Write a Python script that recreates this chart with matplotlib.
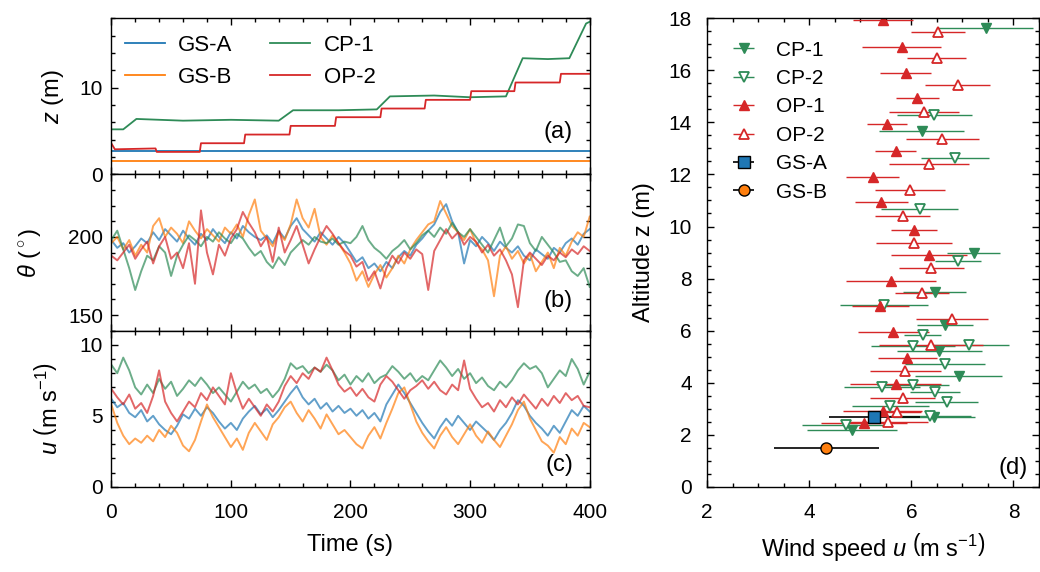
import numpy as np
import matplotlib
matplotlib.use("Agg")
import matplotlib.pyplot as plt
from matplotlib.ticker import MultipleLocator

plt.rcParams["font.family"] = ["Liberation Sans", "DejaVu Sans"]
plt.rcParams["mathtext.fontset"] = "custom"
plt.rcParams["mathtext.rm"] = "Liberation Sans"
plt.rcParams["mathtext.it"] = "Liberation Sans:italic"
plt.rcParams["font.size"] = 15
plt.rcParams["axes.labelsize"] = 17

C_A = "#1f77b4"
C_B = "#ff7f0e"
C_CP = "#2e8b57"
C_OP = "#d62728"

# ---- panel (a): altitude of the sensors, (time, z) breakpoints
cp1_t = [0, 10, 21, 60, 100, 140, 152, 190, 222, 233, 270, 300, 330, 344, 365, 383, 397, 400]
cp1_z = [5.2, 5.2, 6.4, 6.2, 6.3, 6.2, 7.4, 7.4, 7.5, 9.0, 9.1, 8.9, 9.0, 13.4, 13.3, 13.4, 17.4, 17.6]
op2_t = [0, 3, 37, 38, 74, 75, 111, 112, 149, 150, 187, 188, 225, 226, 262, 263, 300, 301, 337, 338, 375, 376, 400]
op2_z = [3.6, 2.9, 3.0, 2.6, 2.6, 3.6, 3.6, 4.6, 4.6, 5.6, 5.6, 6.6, 6.6, 7.6, 7.6, 8.6, 8.6, 9.6, 9.6, 10.6, 10.6, 11.6, 11.6]
gsa_z = 2.7
gsb_z = 1.5

# ---- panel (b): wind direction (deg), sampled every 5 s
dir_gsa = [198, 193, 196, 190, 194, 199, 196, 203, 198, 205, 201, 197, 204, 199, 195, 202, 198, 205, 200, 196,
           203, 199, 207, 203, 200, 198, 201, 196, 204, 199, 207, 212, 205, 201, 197, 203, 199, 195, 200, 196,
           190, 184, 187, 180, 183, 178, 184, 180, 187, 191, 188, 195, 199, 204, 208, 216, 221, 210, 203, 183,
           198, 194, 200, 196, 191, 197, 193, 190, 194, 188, 185, 192, 189, 186, 193, 190, 196, 199, 195, 202, 205]
dir_gsb = [196, 200, 192, 198, 188, 195, 190, 207, 212, 200, 206, 202, 196, 210, 204, 199, 205, 201, 197, 206,
           202, 208, 200, 214, 224, 204, 199, 194, 203, 198, 208, 224, 212, 206, 218, 200, 195, 201, 196, 190,
           183, 172, 178, 168, 176, 182, 174, 180, 188, 183, 192, 198, 203, 208, 210, 223, 215, 207, 203, 198,
           205, 196, 192, 185, 162, 188, 194, 186, 191, 183, 189, 178, 184, 190, 180, 193, 188, 197, 203, 200, 213]
dir_cp1 = [198, 204, 192, 180, 166, 178, 188, 185, 194, 190, 175, 188, 195, 201, 198, 194, 200, 197, 203, 199,
           196, 202, 199, 193, 188, 191, 184, 180, 187, 182, 190, 194, 198, 195, 200, 197, 196, 199, 195, 197,
           196, 200, 207, 198, 193, 190, 186, 191, 194, 198, 192, 196, 201, 204, 200, 206, 202, 209, 203, 200,
           205, 200, 195, 190, 198, 206, 194, 199, 208, 207, 196, 191, 200, 195, 190, 184, 185, 178, 175, 180, 168]
dir_op2 = [188, 185, 190, 195, 186, 192, 197, 183, 194, 200, 186, 190, 180, 196, 170, 217, 190, 176, 195, 188,
           199, 205, 216, 209, 203, 194, 200, 184, 206, 190, 198, 207, 195, 183, 192, 200, 207, 202, 196, 191,
           188, 181, 184, 172, 178, 167, 180, 188, 183, 190, 186, 192, 189, 166, 191, 198, 205, 199, 203, 195,
           200, 197, 190, 195, 188, 192, 185, 176, 155, 185, 190, 186, 182, 188, 185, 190, 187, 192, 189, 194, 191]

# ---- panel (c): wind speed (m/s), sampled every 5 s
spd_gsa = [6.2, 5.6, 5.9, 5.2, 4.9, 5.4, 4.6, 5.0, 4.4, 4.0, 3.7, 4.3, 5.1, 4.8, 5.5, 5.0, 5.6, 5.2, 4.6, 4.1,
           4.5, 4.0, 4.8, 5.3, 5.7, 5.1, 5.5, 4.9, 5.4, 6.0, 6.6, 7.1, 6.3, 5.8, 6.2, 5.5, 5.9, 5.3, 5.7, 5.2,
           5.5, 5.0, 5.4, 4.8, 5.2, 4.6, 5.8, 6.5, 7.2, 6.6, 5.9, 5.2, 4.5, 3.9, 3.4, 4.2, 4.8, 4.3, 5.0, 4.5,
           4.0, 4.6, 4.2, 3.8, 3.3, 4.0, 4.5, 5.2, 6.1, 5.7, 5.0, 4.5, 4.1, 3.6, 4.3, 3.8, 4.6, 5.4, 5.0, 5.7, 5.3]
spd_gsb = [5.8, 4.5, 3.6, 3.0, 3.4, 3.1, 3.6, 3.2, 4.0, 3.5, 4.3, 3.8, 2.9, 2.5, 3.3, 4.6, 5.8, 4.9, 4.2, 3.5,
           2.8, 3.4, 2.6, 3.8, 4.5, 3.9, 3.3, 4.4, 4.9, 5.6, 6.0, 5.2, 4.6, 5.4, 4.8, 4.1, 5.1, 4.4, 3.7, 4.0,
           3.5, 3.0, 2.7, 3.6, 4.2, 3.4, 4.5, 5.5, 6.6, 7.0, 5.8, 4.6, 3.8, 3.2, 2.7, 3.6, 4.2, 3.5, 3.0, 3.7,
           4.4, 3.6, 3.1, 3.9, 3.3, 2.8, 3.6, 4.4, 5.4, 6.0, 4.8, 4.0, 3.2, 2.9, 2.4, 3.5, 3.0, 4.1, 3.6, 4.5, 4.2]
spd_cp1 = [8.6, 8.0, 9.1, 8.2, 7.0, 6.5, 7.2, 6.6, 7.6, 6.9, 7.4, 6.4, 6.9, 7.5, 7.1, 7.7, 7.2, 6.6, 7.0, 6.5,
           6.0, 6.7, 7.4, 6.9, 7.2, 6.6, 6.9, 6.3, 6.8, 7.6, 8.7, 8.3, 8.5, 8.0, 8.4, 8.1, 8.6, 8.2, 7.5, 7.9,
           7.2, 7.8, 7.4, 8.0, 7.3, 7.7, 7.9, 8.5, 8.1, 7.6, 8.0, 7.4, 7.8, 7.5, 8.2, 8.9, 8.4, 7.8, 8.3, 7.6,
           8.0, 7.3, 7.7, 7.1, 6.8, 7.4, 7.0, 7.5, 8.2, 8.7, 8.3, 8.5, 8.0, 7.0, 7.6, 8.2, 7.8, 9.0, 8.3, 7.2, 8.1]
spd_op2 = [6.9, 6.3, 5.8, 6.5, 5.5, 5.9, 5.2, 6.4, 8.2, 6.0, 5.2, 4.6, 5.3, 6.0, 5.6, 6.6, 6.1, 7.0, 6.4, 5.8,
           8.0, 6.6, 5.5, 6.2, 5.6, 5.0, 5.8, 5.3, 6.0, 7.1, 7.8, 7.3, 8.0, 7.6, 8.4, 8.1, 9.1, 8.2, 7.2, 6.7,
           7.0, 6.4, 6.9, 6.3, 6.0, 7.2, 7.8, 7.4, 6.8, 6.2, 6.8, 7.1, 7.5, 6.9, 7.4, 6.8, 6.5, 7.2, 6.8, 8.9,
           6.9, 6.2, 5.6, 5.9, 5.3, 6.1, 5.6, 6.3, 5.8, 6.5, 6.0, 5.5, 6.2, 5.7, 6.4, 5.9, 6.6, 6.1, 6.4, 5.7, 5.6]

# ---- panel (d): mean wind speed profiles, (u, z, std of u)
cp1_u = [7.46, 6.20, 7.22, 6.46, 6.66, 6.55, 6.93, 6.45, 4.84]
cp1_h = [17.61, 13.68, 8.97, 7.49, 6.23, 5.23, 4.27, 2.70, 2.18]
cp1_s = [0.93, 0.83, 0.52, 0.62, 0.55, 0.84, 0.85, 0.80, 0.88]

cp2_u = [6.45, 6.86, 6.16, 6.92, 5.46, 6.22, 6.03, 7.13, 6.66, 6.03, 5.42, 6.46, 6.69, 5.59, 6.37, 4.71]
cp2_h = [14.27, 12.62, 10.67, 8.69, 7.00, 5.85, 5.40, 5.46, 4.73, 3.92, 3.82, 3.64, 3.24, 3.12, 2.72, 2.38]
cp2_s = [0.73, 0.67, 0.76, 0.45, 0.86, 0.37, 0.82, 0.78, 0.78, 0.70, 0.74, 0.49, 0.62, 0.76, 0.80, 0.86]

op1_u = [5.45, 5.81, 5.89, 6.12, 5.52, 5.69, 5.24, 5.41, 6.05, 6.35, 5.60, 5.39, 5.65, 5.92, 5.69, 5.44, 5.07]
op1_h = [17.94, 16.90, 15.91, 14.94, 13.92, 12.91, 11.90, 10.94, 9.87, 8.91, 7.90, 6.96, 5.95, 4.93, 3.96, 2.93, 2.44]
op1_s = [0.59, 0.78, 0.50, 0.43, 0.39, 0.41, 0.52, 0.52, 0.45, 0.74, 0.88, 0.56, 0.70, 0.58, 0.90, 0.77, 0.84]

op2_u = [6.52, 6.50, 6.91, 6.25, 6.61, 6.35, 5.97, 5.83, 6.05, 6.39, 6.20, 6.80, 6.39, 5.88, 5.83, 5.71, 5.55]
op2_h = [17.49, 16.46, 15.42, 14.40, 13.38, 12.41, 11.40, 10.41, 9.38, 8.42, 7.45, 6.45, 5.45, 4.46, 3.41, 2.88, 2.48]
op2_s = [0.53, 0.58, 0.64, 0.69, 0.71, 0.78, 0.69, 0.54, 0.75, 0.64, 0.53, 0.70, 1.02, 0.70, 0.64, 0.48, 0.78]

gsa_u, gsa_s = 5.27, 0.89
gsb_u, gsb_s = 4.33, 1.03

fig = plt.figure(figsize=(10.4, 5.72), dpi=100)
L, R, B, T = 0.107, 0.567, 0.149, 0.968
h = (T - B) / 3
ax_a = fig.add_axes([L, B + 2 * h, R - L, h])
ax_b = fig.add_axes([L, B + h, R - L, h])
ax_c = fig.add_axes([L, B, R - L, h])
ax_d = fig.add_axes([0.680, B, 0.319, T - B])


def style(ax, ypad=6):
    ax.tick_params(which="both", direction="in", top=True, right=True, width=1.0)
    ax.tick_params(which="major", length=5)
    ax.tick_params(which="minor", length=3)
    ax.tick_params(axis="x", pad=12)
    ax.tick_params(axis="y", pad=ypad)
    for s in ax.spines.values():
        s.set_linewidth(1.0)


# (a)
ax_a.plot([0, 400], [gsa_z, gsa_z], color=C_A, lw=1.3, label="GS-A")
ax_a.plot([0, 400], [gsb_z, gsb_z], color=C_B, lw=1.3, label="GS-B")
ax_a.plot(cp1_t, cp1_z, color=C_CP, lw=1.3, label="CP-1")
ax_a.plot(op2_t, op2_z, color=C_OP, lw=1.3, label="OP-2")
ax_a.set_ylim(0, 18)
ax_a.yaxis.set_major_locator(MultipleLocator(10))
ax_a.yaxis.set_minor_locator(MultipleLocator(2))
ax_a.set_ylabel("$z$ (m)", labelpad=10)
ax_a.legend(ncol=2, frameon=False, loc="upper left", fontsize=16, handlelength=1.8,
            handletextpad=0.6, columnspacing=1.7, labelspacing=0.5,
            borderaxespad=0.0, bbox_to_anchor=(0.01, 0.95))
ax_a.text(0.965, 0.27, "(a)", transform=ax_a.transAxes, ha="right", va="center", fontsize=17)

# (b) and (c)
for ax, data in [(ax_b, [dir_gsa, dir_gsb, dir_cp1, dir_op2]),
                 (ax_c, [spd_gsa, spd_gsb, spd_cp1, spd_op2])]:
    for vals, col in zip(data, [C_A, C_B, C_CP, C_OP]):
        tt = np.linspace(0, 400, len(vals))
        ax.plot(tt, vals, color=col, lw=1.4, alpha=0.7)

ax_b.set_ylim(140, 240)
ax_b.yaxis.set_major_locator(MultipleLocator(50))
ax_b.yaxis.set_minor_locator(MultipleLocator(10))
ax_b.set_ylabel(r"$\theta$ $(^\circ)$", labelpad=18)
ax_b.text(0.965, 0.19, "(b)", transform=ax_b.transAxes, ha="right", va="center", fontsize=17)

ax_c.set_ylim(0, 11)
ax_c.yaxis.set_major_locator(MultipleLocator(5))
ax_c.yaxis.set_minor_locator(MultipleLocator(1))
ax_c.set_ylabel(r"$u\ \left(\mathrm{m\ s^{-1}}\right)$", labelpad=13)
ax_c.text(0.965, 0.14, "(c)", transform=ax_c.transAxes, ha="right", va="center", fontsize=17)
ax_c.set_xlabel("Time (s)", labelpad=8)

for ax in (ax_a, ax_b, ax_c):
    ax.set_xlim(0, 400)
    ax.xaxis.set_major_locator(MultipleLocator(100))
    ax.xaxis.set_minor_locator(MultipleLocator(20))
    style(ax)
ax_a.tick_params(labelbottom=False)
ax_b.tick_params(labelbottom=False)

# (d)
eb = dict(linestyle="none", elinewidth=1.0, capsize=0, ms=7.5)
ax_d.errorbar(cp1_u, cp1_h, xerr=cp1_s, marker="v", color=C_CP, mfc=C_CP, mec=C_CP, label="CP-1", **eb)
ax_d.errorbar(cp2_u, cp2_h, xerr=cp2_s, marker="v", color=C_CP, mfc="white", mec=C_CP, mew=1.3, label="CP-2", **eb)
ax_d.errorbar(op1_u, op1_h, xerr=op1_s, marker="^", color=C_OP, mfc=C_OP, mec=C_OP, label="OP-1", **eb)
ax_d.errorbar(op2_u, op2_h, xerr=op2_s, marker="^", color=C_OP, mfc="white", mec=C_OP, mew=1.3, label="OP-2", **eb)
ax_d.errorbar([gsa_u], [gsa_z], xerr=[gsa_s], marker="s", color="black", mfc=C_A, mec="black",
              linestyle="none", elinewidth=1.2, capsize=0, ms=8, label="GS-A")
ax_d.errorbar([gsb_u], [gsb_z], xerr=[gsb_s], marker="o", color="black", mfc=C_B, mec="black",
              linestyle="none", elinewidth=1.2, capsize=0, ms=8, label="GS-B")
ax_d.set_xlim(2, 8.5)
ax_d.set_ylim(0, 18)
ax_d.xaxis.set_major_locator(MultipleLocator(2))
ax_d.xaxis.set_minor_locator(MultipleLocator(0.5))
ax_d.yaxis.set_major_locator(MultipleLocator(2))
ax_d.yaxis.set_minor_locator(MultipleLocator(0.5))
ax_d.set_xlabel(r"Wind speed $u\ \left(\mathrm{m\ s^{-1}}\right)$", labelpad=6)
ax_d.set_ylabel("Altitude z (m)", labelpad=10)
ax_d.legend(frameon=False, loc="upper left", fontsize=15, handlelength=1.1, handletextpad=1.0,
            labelspacing=0.45, borderaxespad=0.0, bbox_to_anchor=(0.05, 0.97))
ax_d.text(0.965, 0.04, "(d)", transform=ax_d.transAxes, ha="right", va="center", fontsize=17)
style(ax_d, ypad=11)

fig.savefig("out.png", dpi=100)
